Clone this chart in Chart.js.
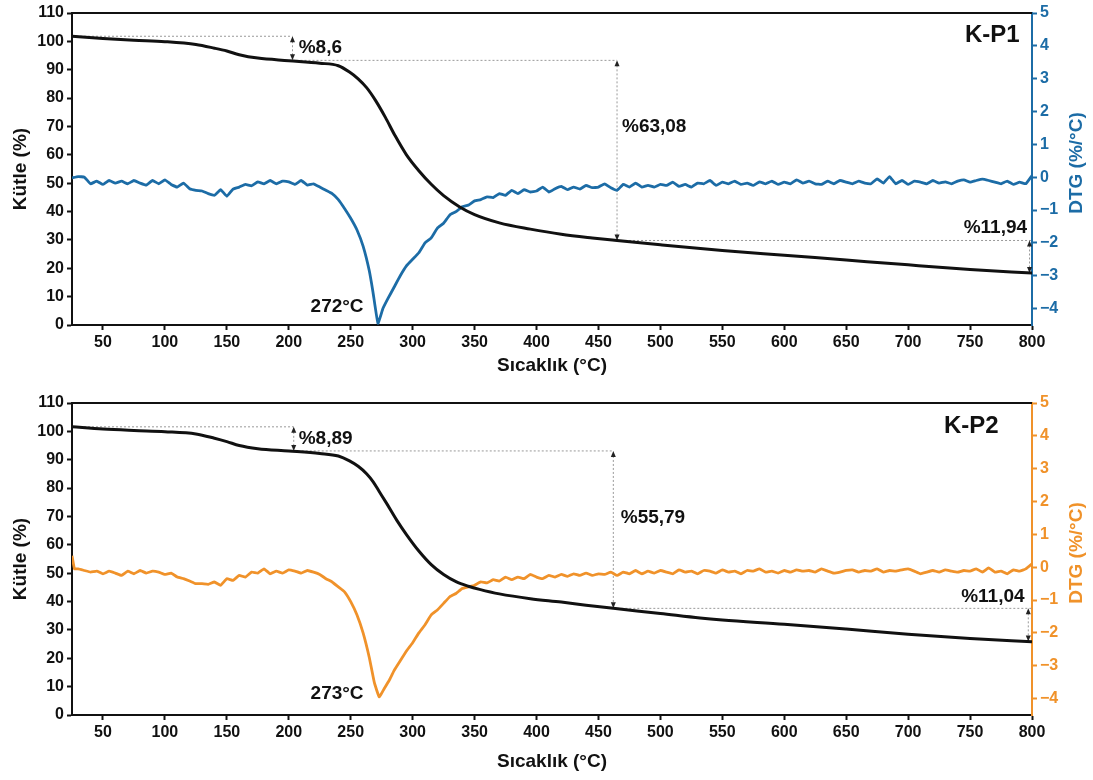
<!DOCTYPE html>
<html>
<head>
<meta charset="utf-8">
<script src="https://cdn.jsdelivr.net/npm/chart.js@4.4.1/dist/chart.umd.min.js"></script>
<style>
  html, body { margin: 0; padding: 0; background: #fff; }
  canvas { display: block; }
</style>
</head>
<body>
<canvas id="kp1" width="1093" height="390"></canvas>
<canvas id="kp2" width="1093" height="390"></canvas>
<script>
const FONT = "'Liberation Sans', Arial, sans-serif";
const INK = '#111111';
const BLUE = '#1c6ca6';
const ORANGE = '#f0922a';

// axis ticks
const tempTicks = [50, 100, 150, 200, 250, 300, 350, 400, 450, 500, 550, 600, 650, 700, 750, 800];
const massTicks = [0, 10, 20, 30, 40, 50, 60, 70, 80, 90, 100, 110];
const dtgTicks = [-4, -3, -2, -1, 0, 1, 2, 3, 4, 5];

// K-P1: mass (%) vs temperature (°C)
const tgKP1 = [
  [25, 101.8], [50, 101.0], [75, 100.4], [100, 99.9], [125, 98.9], [140, 97.6], [150, 96.6],
  [160, 95.3], [175, 94.1], [200, 93.2], [225, 92.3], [240, 91.4], [249, 89.2], [256, 86.8],
  [263, 83.6], [270, 79.2], [278, 73.2], [286, 66.6], [295, 60.0], [305, 54.4], [315, 49.6],
  [325, 45.6], [338, 41.6], [350, 38.9], [370, 36.0], [395, 33.8], [420, 32.0], [445, 30.7],
  [465, 29.8], [500, 28.3], [550, 26.3], [600, 24.6], [650, 22.9], [700, 21.2], [750, 19.6],
  [800, 18.3]
];

// K-P1: DTG (%/°C)
const dtgKP1 = [
  [25, -0.02], [30, 0.02], [35, 0.0], [40, -0.2], [45, -0.12], [50, -0.22], [55, -0.1], [60, -0.18],
  [65, -0.12], [70, -0.2], [75, -0.1], [80, -0.18], [85, -0.24], [90, -0.1], [95, -0.2], [100, -0.08],
  [105, -0.22], [110, -0.3], [115, -0.18], [120, -0.35], [125, -0.4], [130, -0.42], [135, -0.5],
  [140, -0.55], [145, -0.38], [150, -0.58], [155, -0.36], [160, -0.3], [165, -0.22], [170, -0.26],
  [175, -0.14], [180, -0.2], [185, -0.1], [190, -0.2], [195, -0.12], [200, -0.14], [205, -0.22],
  [210, -0.1], [215, -0.24], [220, -0.2], [225, -0.3], [230, -0.4], [235, -0.5], [240, -0.68],
  [245, -0.95], [250, -1.25], [255, -1.6], [260, -2.1], [265, -2.85], [268, -3.5], [272, -4.45],
  [276, -4.0], [280, -3.7], [285, -3.35], [290, -3.0], [295, -2.7], [300, -2.5], [305, -2.3],
  [310, -2.0], [315, -1.85], [320, -1.55], [325, -1.4], [330, -1.15], [335, -1.05], [340, -0.9],
  [345, -0.85], [350, -0.72], [355, -0.68], [360, -0.6], [365, -0.62], [370, -0.5], [375, -0.55],
  [380, -0.4], [385, -0.5], [390, -0.38], [395, -0.45], [400, -0.42], [405, -0.3], [410, -0.45],
  [415, -0.35], [420, -0.28], [425, -0.38], [430, -0.3], [435, -0.36], [440, -0.25], [445, -0.32],
  [450, -0.3], [455, -0.2], [460, -0.32], [465, -0.4], [470, -0.22], [475, -0.3], [480, -0.18],
  [485, -0.3], [490, -0.25], [495, -0.3], [500, -0.22], [505, -0.25], [510, -0.15], [515, -0.28],
  [520, -0.22], [525, -0.3], [530, -0.18], [535, -0.2], [540, -0.1], [545, -0.25], [550, -0.15],
  [555, -0.2], [560, -0.12], [565, -0.22], [570, -0.18], [575, -0.25], [580, -0.14], [585, -0.2],
  [590, -0.12], [595, -0.22], [600, -0.15], [605, -0.2], [610, -0.08], [615, -0.18], [620, -0.12],
  [625, -0.2], [630, -0.22], [635, -0.12], [640, -0.2], [645, -0.1], [650, -0.15], [655, -0.2],
  [660, -0.12], [665, -0.18], [670, -0.2], [675, -0.05], [680, -0.18], [685, 0.02], [690, -0.2],
  [695, -0.1], [700, -0.22], [705, -0.12], [710, -0.15], [715, -0.2], [720, -0.1], [725, -0.18],
  [730, -0.14], [735, -0.2], [740, -0.12], [745, -0.08], [750, -0.15], [755, -0.1], [760, -0.06],
  [765, -0.1], [770, -0.15], [775, -0.2], [780, -0.12], [785, -0.22], [790, -0.15], [795, -0.2],
  [800, 0.05]
];

// K-P2: mass (%) vs temperature (°C)
const tgKP2 = [
  [25, 101.6], [50, 100.8], [75, 100.3], [100, 99.9], [125, 99.1], [140, 97.6], [150, 96.4],
  [160, 95.0], [175, 93.9], [200, 93.1], [225, 92.2], [240, 91.3], [249, 89.6], [256, 87.7],
  [263, 85.0], [268, 82.3], [273, 78.8], [279, 74.6], [287, 68.8], [295, 63.6], [305, 57.8],
  [315, 53.0], [325, 49.5], [335, 47.0], [345, 45.4], [354, 44.3], [370, 42.7], [395, 41.0],
  [420, 39.8], [440, 38.7], [462, 37.6], [500, 35.8], [532, 34.2], [550, 33.5], [600, 32.0],
  [650, 30.3], [700, 28.5], [750, 27.0], [800, 25.8]
];

// K-P2: DTG (%/°C)
const dtgKP2 = [
  [25, 0.35], [27, -0.05], [30, -0.05], [35, -0.1], [40, -0.15], [45, -0.12], [50, -0.2], [55, -0.12],
  [60, -0.18], [65, -0.25], [70, -0.12], [75, -0.2], [80, -0.1], [85, -0.18], [90, -0.12], [95, -0.15],
  [100, -0.22], [105, -0.18], [110, -0.3], [115, -0.35], [120, -0.42], [125, -0.5], [130, -0.5],
  [135, -0.52], [140, -0.45], [145, -0.55], [150, -0.35], [155, -0.4], [160, -0.25], [165, -0.3],
  [170, -0.15], [175, -0.18], [180, -0.05], [185, -0.2], [190, -0.12], [195, -0.18], [200, -0.08],
  [205, -0.12], [210, -0.18], [215, -0.1], [220, -0.15], [225, -0.22], [230, -0.35], [235, -0.45],
  [240, -0.6], [245, -0.75], [250, -1.05], [255, -1.45], [260, -2.0], [265, -2.75], [269, -3.5],
  [273, -3.95], [277, -3.7], [281, -3.45], [285, -3.15], [290, -2.85], [295, -2.55], [300, -2.3],
  [305, -2.0], [310, -1.75], [315, -1.45], [320, -1.3], [325, -1.1], [330, -0.9], [335, -0.8],
  [340, -0.65], [345, -0.6], [350, -0.55], [355, -0.45], [360, -0.48], [365, -0.38], [370, -0.42],
  [375, -0.3], [380, -0.38], [385, -0.3], [390, -0.35], [395, -0.22], [400, -0.3], [405, -0.35],
  [410, -0.25], [415, -0.3], [420, -0.22], [425, -0.28], [430, -0.2], [435, -0.25], [440, -0.18],
  [445, -0.25], [450, -0.2], [455, -0.22], [460, -0.15], [465, -0.25], [470, -0.15], [475, -0.2],
  [480, -0.1], [485, -0.2], [490, -0.12], [495, -0.18], [500, -0.1], [505, -0.15], [510, -0.2],
  [515, -0.08], [520, -0.15], [525, -0.12], [530, -0.2], [535, -0.1], [540, -0.12], [545, -0.18],
  [550, -0.08], [555, -0.15], [560, -0.12], [565, -0.2], [570, -0.1], [575, -0.12], [580, -0.05],
  [585, -0.15], [590, -0.12], [595, -0.18], [600, -0.1], [605, -0.15], [610, -0.08], [615, -0.12],
  [620, -0.1], [625, -0.15], [630, -0.05], [635, -0.12], [640, -0.18], [645, -0.15], [650, -0.1],
  [655, -0.08], [660, -0.15], [665, -0.1], [670, -0.12], [675, -0.05], [680, -0.15], [685, -0.1],
  [690, -0.12], [695, -0.08], [700, -0.05], [705, -0.12], [710, -0.2], [715, -0.15], [720, -0.1],
  [725, -0.15], [730, -0.08], [735, -0.12], [740, -0.15], [745, -0.1], [750, -0.12], [755, -0.05],
  [760, -0.15], [765, -0.02], [770, -0.15], [775, -0.12], [780, -0.2], [785, -0.08], [790, -0.12],
  [795, -0.05], [800, 0.1]
];

// mass-loss steps: [fromTemp, arrowTemp, upperLevel, lowerLevel]
const stepsKP1 = [[25, 203, 101.8, 93.3], [203, 465, 93.3, 29.8], [465, 798, 29.8, 18.3]];
const stepsKP2 = [[25, 204, 101.6, 93.1], [204, 462, 93.1, 37.6], [462, 797, 37.6, 25.9]];

// labels: [text, temp, mass, align, size]
const labelsKP1 = [
  ['%8,6', 208, 97.7, 'left', 19], ['%63,08', 469, 69.8, 'left', 19], ['%11,94', 796, 34.2, 'right', 19],
  ['272°C', 239, 6.5, 'center', 19], ['K-P1', 768, 102.2, 'center', 24]
];
const labelsKP2 = [
  ['%8,89', 208, 97.3, 'left', 19], ['%55,79', 468, 69.5, 'left', 19], ['%11,04', 794, 41.6, 'right', 19],
  ['273°C', 239, 7.4, 'center', 19], ['K-P2', 751, 101.9, 'center', 24]
];

function arrowHead(ctx, x, y, dir) {
  ctx.beginPath();
  ctx.moveTo(x, y);
  ctx.lineTo(x - 2.5, y + dir * 6);
  ctx.lineTo(x + 2.5, y + dir * 6);
  ctx.closePath();
  ctx.fill();
}

const notesPlugin = {
  id: 'notes',
  beforeDatasetsDraw(chart, args, opts) {
    const { ctx, scales: { x, y } } = chart;
    ctx.save();
    ctx.lineWidth = 1;
    ctx.strokeStyle = '#9a9a9a';
    ctx.fillStyle = '#222';
    ctx.setLineDash([2, 2]);
    opts.steps.forEach(([t0, t1, hi, lo]) => {
      const end = t1 > 790 ? 800 : t1;
      ctx.beginPath();
      ctx.moveTo(x.getPixelForValue(t0), y.getPixelForValue(hi));
      ctx.lineTo(x.getPixelForValue(end), y.getPixelForValue(hi));
      ctx.stroke();
      const ax = x.getPixelForValue(t1);
      ctx.beginPath();
      ctx.moveTo(ax, y.getPixelForValue(hi) + 5);
      ctx.lineTo(ax, y.getPixelForValue(lo) - 5);
      ctx.stroke();
    });
    ctx.setLineDash([]);
    opts.steps.forEach(([t0, t1, hi, lo]) => {
      const ax = x.getPixelForValue(t1);
      arrowHead(ctx, ax, y.getPixelForValue(hi), 1);
      arrowHead(ctx, ax, y.getPixelForValue(lo), -1);
    });
    ctx.restore();
  },
  afterDatasetsDraw(chart, args, opts) {
    const { ctx, chartArea, scales: { x, y } } = chart;
    ctx.save();
    // top frame
    ctx.strokeStyle = INK;
    ctx.lineWidth = 2;
    ctx.beginPath();
    ctx.moveTo(chartArea.left - 1, chartArea.top);
    ctx.lineTo(chartArea.right, chartArea.top);
    ctx.stroke();
    // text notes
    ctx.fillStyle = INK;
    ctx.textBaseline = 'middle';
    opts.labels.forEach(([text, t, v, align, size]) => {
      ctx.font = `bold ${size}px ${FONT}`;
      ctx.textAlign = align;
      ctx.fillText(text, x.getPixelForValue(t), y.getPixelForValue(v));
    });
    // right axis title, reading bottom to top
    ctx.font = `bold 19px ${FONT}`;
    ctx.fillStyle = opts.color;
    ctx.textAlign = 'center';
    ctx.translate(1077, (chartArea.top + chartArea.bottom) / 2 - 6);
    ctx.rotate(-Math.PI / 2);
    ctx.fillText('DTG (%/°C)', 0, 0);
    ctx.restore();
  }
};

function buildChart(id, tg, dtg, color, steps, labels, titleGap) {
  const tickFont = { family: FONT, size: 16, weight: 'bold' };
  return new Chart(document.getElementById(id), {
    type: 'line',
    data: {
      datasets: [
        {
          label: 'TG', yAxisID: 'y', data: tg.map(([t, v]) => ({ x: t, y: v })),
          borderColor: INK, borderWidth: 3, pointRadius: 0, tension: 0.4, cubicInterpolationMode: 'monotone'
        },
        {
          label: 'DTG', yAxisID: 'y2', data: dtg.map(([t, v]) => ({ x: t, y: v })),
          borderColor: color, borderWidth: 2.8, pointRadius: 0, tension: 0.1
        }
      ]
    },
    options: {
      responsive: false,
      animation: false,
      events: [],
      layout: { padding: { top: 13, left: 0, right: 0, bottom: 0 } },
      plugins: {
        legend: { display: false },
        tooltip: { enabled: false },
        notes: { steps, labels, color }
      },
      scales: {
        x: {
          type: 'linear', position: 'bottom', min: 25, max: 800,
          afterBuildTicks: (s) => { s.ticks = tempTicks.map((v) => ({ value: v })); },
          afterFit: (s) => { s.height = 65; },
          ticks: { color: INK, font: tickFont, padding: 3, maxRotation: 0 },
          grid: { drawOnChartArea: false, drawTicks: true, tickLength: 5, tickColor: INK, tickWidth: 2 },
          border: { color: INK, width: 2 },
          title: {
            display: true, text: 'Sıcaklık (°C)', color: INK,
            font: { family: FONT, size: 19, weight: 'bold' }, padding: { top: 0, bottom: titleGap }
          }
        },
        y: {
          position: 'left', min: 0, max: 110,
          afterBuildTicks: (s) => { s.ticks = massTicks.map((v) => ({ value: v })); },
          afterFit: (s) => { s.width = 72; },
          ticks: { color: INK, font: tickFont, padding: 3 },
          grid: { drawOnChartArea: false, drawTicks: true, tickLength: 5, tickColor: INK, tickWidth: 2 },
          border: { color: INK, width: 2 },
          title: {
            display: true, text: 'Kütle (%)', color: INK,
            font: { family: FONT, size: 19, weight: 'bold' }, padding: { top: 9, bottom: 0 }
          }
        },
        y2: {
          position: 'right', min: -4.5, max: 5,
          afterBuildTicks: (s) => { s.ticks = dtgTicks.map((v) => ({ value: v })); },
          afterFit: (s) => { s.width = 61; },
          ticks: {
            color, font: tickFont, padding: 3,
            callback: (v) => (v < 0 ? '\u2212' + Math.abs(v) : String(v))
          },
          grid: { drawOnChartArea: false, drawTicks: true, tickLength: 5, tickColor: color, tickWidth: 2 },
          border: { color, width: 2 }
        }
      }
    },
    plugins: [notesPlugin]
  });
}

buildChart('kp1', tgKP1, dtgKP1, BLUE, stepsKP1, labelsKP1, 13);
buildChart('kp2', tgKP2, dtgKP2, ORANGE, stepsKP2, labelsKP2, 7);
</script>
</body>
</html>
